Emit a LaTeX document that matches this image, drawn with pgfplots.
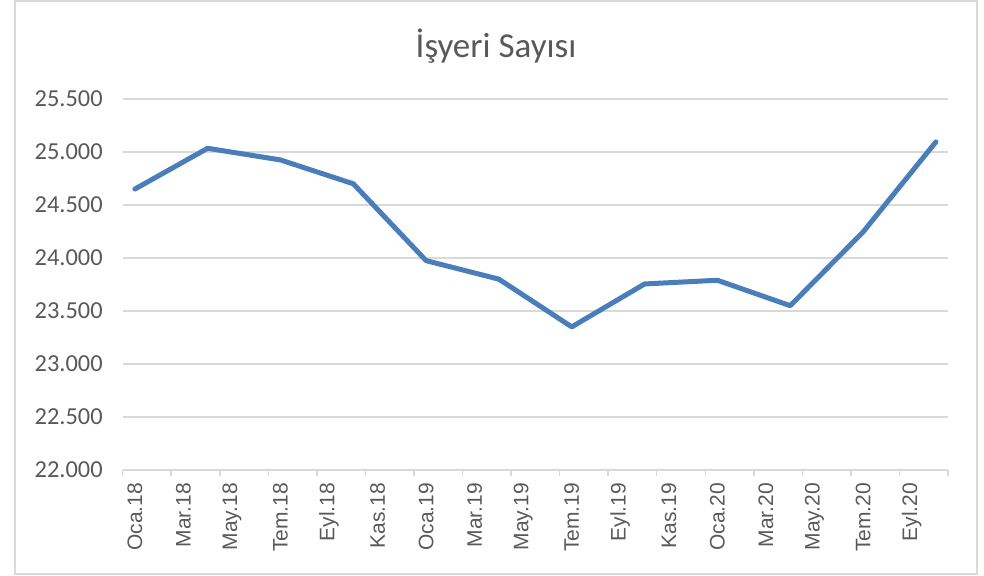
\documentclass[border=0pt]{standalone}
\usepackage{pgfplots}
\pgfplotsset{compat=1.18}
\usepackage{fontspec}
\setmainfont{Carlito}
\newfontfamily\arialf{Liberation Sans}
\definecolor{linebl}{HTML}{4A7EBB}
\definecolor{gridg}{HTML}{D9D9D9}
\definecolor{txtg}{HTML}{595959}
\begin{document}
\begin{tikzpicture}
\path[use as bounding box] (0pt,0pt) rectangle (492pt,288pt);
\draw[gridg, line width=1pt] (7.5pt,1pt) rectangle (488.5pt,287.5pt);
\node[txtg, font=\fontsize{17.5}{20}\selectfont, anchor=base] at (248pt,259pt) {İşyeri Sayısı};
\begin{axis}[
  at={(61.35pt,53pt)}, anchor=south west,
  scale only axis, width=412.65pt, height=185.5pt,
  xmin=-0.5, xmax=33.5, ymin=22000, ymax=25500,
  ytick={22000,22500,...,25500},
  scaled y ticks=false,
  xtick={0,2,...,32},
  xticklabels={Oca.18,Mar.18,May.18,Tem.18,Eyl.18,Kas.18,Oca.19,Mar.19,May.19,Tem.19,Eyl.19,Kas.19,Oca.20,Mar.20,May.20,Tem.20,Eyl.20},
  minor xtick={-0.5,1.5,...,33.5},
  major tick length=0pt, minor tick length=3pt,
  tick align=outside,
  axis x line*=bottom, axis y line*=left,
  x axis line style={gridg, line width=0.75pt, -},
  y axis line style={draw=none, -},
  minor tick style={gridg, line width=0.75pt},
  major tick style={draw=none},
  ymajorgrids,
  major grid style={gridg, line width=0.75pt},
  ticklabel style={txtg},
  y tick label style={font=\fontsize{12.2}{14}\selectfont},
  x tick label style={rotate=90, anchor=east, font=\arialf\fontsize{10.5}{12}\selectfont},
  xticklabel shift=3pt,
  yticklabel shift=6.5pt,
  /pgf/number format/assume math mode=true,
  /pgf/number format/.cd, fixed, 1000 sep={.},
]
\addplot[linebl, line width=2.5pt, line cap=round, line join=round] coordinates {
(0,24650) (3,25035) (6,24925) (9,24700) (12,23975) (15,23800)
(18,23350) (21,23755) (24,23790) (27,23550) (30,24245) (33,25095)};
\end{axis}
\end{tikzpicture}
\end{document}
